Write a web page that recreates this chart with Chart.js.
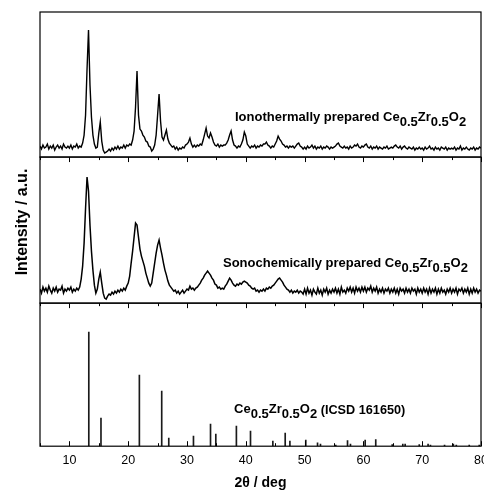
<!DOCTYPE html>
<html><head><meta charset="utf-8">
<script src="https://cdn.jsdelivr.net/npm/chart.js@4.4.1/dist/chart.umd.min.js"></script>
<style>html,body{margin:0;padding:0;background:#fff}#wrap{width:484px;height:496px}</style>
</head><body><div id="wrap"><canvas id="c" width="484" height="496"></canvas></div>
<script>
// sampling of the measured patterns: 5° to 80° in 0.25° steps
const startDeg = 5, stepDeg = 0.25;
// Ionothermally prepared (top panel), intensity in arbitrary units
const ionothermal = [
11,8,12,9,10,13,8,11,9,12,7,10,12,9,11,8,13,10,9,11,
9,12,8,11,10,13,9,11,10,14,22,42,88,127,72,40,22,13,9,10,
24,35,16,7,4,5,6,8,6,9,7,10,8,11,8,10,9,12,9,12,
11,13,12,17,26,50,86,42,28,26,22,20,16,15,11,10,6,8,12,22,
42,63,36,20,17,22,27,18,14,12,10,11,8,10,7,9,8,10,9,12,
13,15,19,13,10,12,10,12,11,13,12,17,23,29,21,19,24,20,15,12,
11,13,10,12,11,12,12,14,17,22,26,17,12,11,9,11,10,13,17,25,
21,13,11,9,11,10,12,9,11,10,12,11,13,13,15,12,11,9,11,10,
13,16,21,18,16,13,12,10,11,9,11,10,11,9,11,13,14,11,10,8,
10,8,11,9,10,12,9,11,8,10,9,11,8,10,9,11,10,8,10,9,
10,11,13,14,11,10,9,11,9,10,8,11,9,10,12,11,13,10,9,11,
10,12,13,10,9,11,8,10,9,11,8,10,9,8,10,9,11,8,9,10,
9,11,12,10,9,11,8,10,11,9,8,10,9,8,10,7,9,8,10,8,
9,7,10,8,9,11,8,9,7,10,8,9,7,10,9,8,10,7,9,8,
9,8,10,7,9,8,11,7,9,8,10,8,7,9,8,10,7,9,8,10,
9];
// Sonochemically prepared (middle panel)
const sonochemical = [
14,10,16,12,15,11,17,13,10,15,12,16,11,14,13,17,10,14,12,15,
13,16,11,14,12,15,13,16,24,37,60,95,126,112,78,52,33,18,10,14,
24,31,20,10,5,4,7,9,8,11,9,12,10,13,11,14,12,15,13,17,
20,27,40,52,66,80,78,66,54,47,42,37,30,25,20,17,20,30,40,50,
58,63,55,48,40,33,28,22,18,16,14,12,13,10,12,9,11,13,10,12,
14,13,17,14,15,13,15,16,18,20,23,25,28,30,32,30,28,25,23,19,
18,15,16,14,15,14,17,19,22,25,23,20,18,17,19,18,20,19,21,22,
21,20,18,17,15,14,15,12,13,11,13,12,14,12,15,14,16,15,17,18,
20,22,24,25,23,21,18,16,14,13,11,13,10,12,11,13,10,12,11,9,
14,9,15,10,13,8,14,11,9,15,10,13,8,14,11,15,9,13,10,14,
11,15,10,14,9,16,11,13,10,15,12,16,11,15,10,16,12,15,11,16,
12,16,11,15,13,17,11,15,12,16,10,14,11,15,10,14,12,15,10,14,
11,15,10,14,9,15,12,14,10,15,11,14,10,15,12,14,9,15,11,14,
10,15,11,14,9,15,10,14,11,15,9,14,10,15,11,13,9,14,11,15,
10,14,11,15,9,14,12,15,10,14,11,15,9,14,10,15,11,14,10,13,
12];
// Reference pattern (ICSD 161650) stick positions and intensities
const icsdTwoTheta = [13.3,15.37,21.9,25.7,26.9,31.1,34.0,34.9,38.4,40.8,44.6,46.7,47.5,50.2,52.2,52.7,55.3,57.3,57.8,60.3,62.1,64.9,66.7,67.1,69.5,71.0,71.4,73.8,75.3,75.8,78.0,79.7];
const icsdIntensity = [114,28,71,55,8,10,22,12,20,15,5,13,5,6,3.3,2,1,5.7,2,6,6.7,1.5,2,2,1.5,2,1,1,2,1,1,1];
// axis ticks
const xTickValues = [10,20,30,40,50,60,70,80];
const xMinorTickValues = [5,15,25,35,45,55,65,75];
const xTitle = '2θ / deg';
const yTitle = 'Intensity / a.u.';

const FONT = '"Liberation Sans", Arial, Helvetica, sans-serif';
const toXY = arr => arr.map((v, i) => ({x: startDeg + i * stepDeg, y: v}));

const labels = [
  {scale: 'y1', x: 38.16, y: 36.3, parts: [['Ionothermally prepared Ce'],['0.5',1],['Zr'],['0.5',1],['O'],['2',1]]},
  {scale: 'y2', x: 36.12, y: 36.3, parts: [['Sonochemically prepared Ce'],['0.5',1],['Zr'],['0.5',1],['O'],['2',1]]},
  {scale: 'y3', x: 38.0, y: 32.7, parts: [['Ce'],['0.5',1],['Zr'],['0.5',1],['O'],['2',1],[' (ICSD 161650)',0,12.7,1]]}
];

const framePlugin = {
  id: 'frame',
  afterDraw(chart) {
    const ctx = chart.ctx, xs = chart.scales.x;
    const panels = ['y1','y2','y3'].map(id => chart.scales[id]);
    ctx.save();
    ctx.strokeStyle = '#000';
    ctx.lineWidth = 1.2;
    panels.forEach(p => ctx.strokeRect(xs.left, p.top, xs.right - xs.left, p.bottom - p.top));
    ctx.lineWidth = 1;
    const tickRow = (yPix, dir) => {
      ctx.beginPath();
      xTickValues.forEach(v => { const px = Math.round(xs.getPixelForValue(v)) + 0.5; ctx.moveTo(px, yPix); ctx.lineTo(px, yPix + dir * 5); });
      xMinorTickValues.forEach(v => { const px = Math.round(xs.getPixelForValue(v)) + 0.5; ctx.moveTo(px, yPix); ctx.lineTo(px, yPix + dir * 3); });
      ctx.stroke();
    };
    tickRow(panels[1].top, 1);
    tickRow(panels[2].top, 1);
    tickRow(panels[2].bottom, -1);
    // annotations
    ctx.fillStyle = '#000';
    ctx.textBaseline = 'alphabetic';
    ctx.textAlign = 'left';
    labels.forEach(l => {
      let px = xs.getPixelForValue(l.x);
      const py = chart.scales[l.scale].getPixelForValue(l.y);
      l.parts.forEach(([t, sub, size, dy]) => {
        ctx.font = 'bold ' + (size || 13) + 'px ' + FONT;
        ctx.fillText(t, px, py + (sub ? 5 : 0) + (dy || 0));
        px += ctx.measureText(t).width;
      });
    });
    // y title
    ctx.translate(23, 222);
    ctx.rotate(-Math.PI / 2);
    ctx.textAlign = 'center';
    ctx.textBaseline = 'middle';
    ctx.font = 'bold 16px ' + FONT;
    ctx.fillText(yTitle, 0, 0);
    ctx.restore();
  }
};

const panelScale = (weight, stackWeight, max) => ({
  type: 'linear', position: 'left', stack: 'panels', weight, stackWeight,
  min: 0, max, display: true,
  grid: {display: false, drawTicks: false}, border: {display: false},
  ticks: {display: false}
});

new Chart(document.getElementById('c'), {
  type: 'line',
  data: {
    datasets: [
      {label: 'ionothermal', data: toXY(ionothermal), yAxisID: 'y1', borderColor: '#000', borderWidth: 1.4, pointRadius: 0, tension: 0},
      {label: 'sonochemical', data: toXY(sonochemical), yAxisID: 'y2', borderColor: '#000', borderWidth: 1.5, pointRadius: 0, tension: 0},
      {type: 'bar', label: 'ICSD 161650', data: icsdTwoTheta.map((t, i) => ({x: t, y: icsdIntensity[i]})), yAxisID: 'y3', backgroundColor: '#1a1a1a', borderWidth: 0, barThickness: 1}
    ]
  },
  options: {
    responsive: false, animation: false, devicePixelRatio: 1, events: [],
    layout: {padding: {left: 40, right: 3, top: 12, bottom: 3}},
    plugins: {legend: {display: false}, tooltip: {enabled: false}},
    scales: {
      x: {
        type: 'linear', min: 5, max: 80, offset: false, position: 'bottom',
        grid: {display: false, drawTicks: false}, border: {display: false},
        ticks: {color: '#000', font: {family: FONT, size: 12.5}, padding: 7, maxRotation: 0, autoSkip: false},
        afterBuildTicks: s => { s.ticks = xTickValues.map(v => ({value: v})); },
        afterFit: s => { s.paddingLeft = 0; s.paddingRight = 0; },
        title: {display: true, text: xTitle, color: '#000', font: {family: FONT, size: 14, weight: 'bold'}, padding: {top: 0, bottom: 1}}
      },
      y1: panelScale(3, 145, 145),
      y2: panelScale(2, 146, 146),
      y3: panelScale(1, 143, 143)
    }
  },
  plugins: [framePlugin]
});
</script>
</body></html>
